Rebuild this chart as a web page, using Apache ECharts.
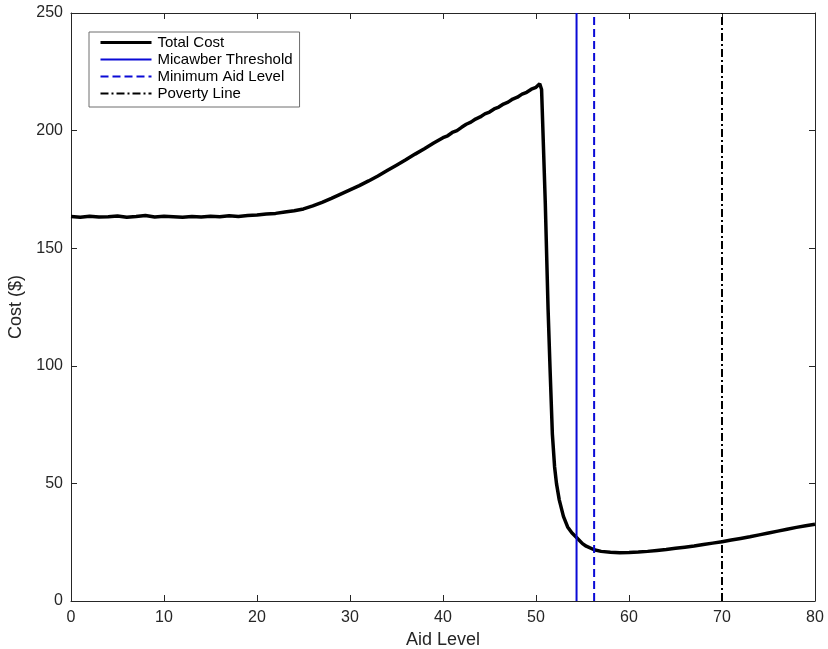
<!DOCTYPE html>
<html>
<head>
<meta charset="utf-8">
<script src="https://cdn.jsdelivr.net/npm/echarts@6/dist/echarts.min.js"></script>
<style>
  html, body { margin: 0; padding: 0; background: #fff; }
  #chart { width: 828px; height: 649px; }
</style>
</head>
<body>
<div id="chart"></div>
<script>
// Aid level values (x) and simulated total cost (y)
const aidLevels = [
  0, 1, 2, 3, 4, 5, 6, 7, 8, 9, 10, 11, 12, 13, 14, 15, 16, 17, 18, 19,
  20, 21, 22, 23, 24, 25, 26, 27, 28, 29, 30, 31, 32, 33, 34, 35, 36, 37, 38, 39,
  40, 40.5, 41, 41.5, 42, 42.5, 43, 43.5, 44, 44.5, 45, 45.5, 46, 46.5, 47, 47.5, 48, 48.5, 49, 49.5,
  50, 50.4, 50.6, 51.0, 51.3, 51.5, 51.76, 52.0, 52.2, 52.5,
  52.95, 53.4, 53.85, 54.36, 55.0, 55.4, 56.25, 57, 58, 59, 60, 61, 62, 63, 64, 65, 66, 67, 68, 69,
  70, 71, 72, 73, 74, 75, 76, 77, 78, 79, 80
];
const totalCost = [
  163.5, 163.2, 163.6, 163.3, 163.4, 163.7, 163.2, 163.5, 163.9, 163.3, 163.6, 163.4, 163.2, 163.5, 163.3, 163.6, 163.4, 163.8, 163.5, 163.9,
  164.1, 164.5, 164.8, 165.4, 165.9, 166.7, 168.0, 169.5, 171.2, 173.0, 174.8, 176.6, 178.6, 180.7, 183.0, 185.3, 187.6, 190.0, 192.3, 194.7,
  197.0, 197.8, 199.2, 200.0, 201.4, 202.7, 203.6, 204.9, 205.8, 207.1, 207.9, 209.2, 210.0, 211.3, 212.1, 213.4, 214.2, 215.5, 216.3, 217.6,
  218.4, 219.9, 217.5, 169.0, 124.0, 100.0, 71.0, 57.0, 50.0, 43.0,
  36.0, 31.5, 29.0, 27.0, 24.4, 23.3, 21.8, 21.1, 20.7, 20.5, 20.6, 20.8, 21.1, 21.5, 21.9, 22.4, 22.9, 23.4, 24.0, 24.6,
  25.2, 25.9, 26.6, 27.3, 28.1, 28.9, 29.7, 30.5, 31.3, 32.0, 32.6
];

// Reference levels drawn as vertical lines
const micawberThreshold = 54.36;
const minimumAidLevel = 56.25;
const povertyLine = 70;

// Axis ranges and ticks
const xTicks = [0, 10, 20, 30, 40, 50, 60, 70, 80];
const yTicks = [0, 50, 100, 150, 200, 250];

const seriesNames = ['Total Cost', 'Micawber Threshold', 'Minimum Aid Level', 'Poverty Line'];

const costPoints = aidLevels.map((x, i) => [x, totalCost[i]]);
const vline = (x) => [[x, yTicks[0]], [x, yTicks[yTicks.length - 1]]];

const FONT = 'Liberation Sans, Arial, Helvetica, sans-serif';
const AXIS_COLOR = '#262626';
const BLUE = '#0a0ad6';

const chart = echarts.init(document.getElementById('chart'), null, { renderer: 'canvas' });

const baseX = {
  type: 'value',
  min: xTicks[0],
  max: xTicks[xTicks.length - 1],
  interval: xTicks[1] - xTicks[0],
  splitLine: { show: false },
  axisLine: { show: true, onZero: false, lineStyle: { color: AXIS_COLOR, width: 1 } },
  axisTick: { show: true, inside: true, length: 6, lineStyle: { color: AXIS_COLOR } }
};
const baseY = {
  type: 'value',
  min: yTicks[0],
  max: yTicks[yTicks.length - 1],
  interval: yTicks[1] - yTicks[0],
  splitLine: { show: false },
  axisLine: { show: true, onZero: false, lineStyle: { color: AXIS_COLOR, width: 1 } },
  axisTick: { show: true, inside: true, length: 6, lineStyle: { color: AXIS_COLOR } }
};

chart.setOption({
  animation: false,
  backgroundColor: '#fff',
  grid: { left: 71, right: 13, top: 13, bottom: 48, containLabel: false, outerBoundsMode: 'none' },
  xAxis: [
    Object.assign({}, baseX, {
      position: 'bottom',
      name: 'Aid Level',
      nameLocation: 'middle',
      nameGap: 23,
      nameTextStyle: { fontFamily: FONT, fontSize: 18, color: AXIS_COLOR },
      axisLabel: { fontFamily: FONT, fontSize: 16, color: AXIS_COLOR, margin: 9 }
    }),
    Object.assign({}, baseX, { position: 'top', axisLabel: { show: false } })
  ],
  yAxis: [
    Object.assign({}, baseY, {
      position: 'left',
      name: 'Cost ($)',
      nameLocation: 'middle',
      nameGap: 38,
      nameRotate: 90,
      nameTextStyle: { fontFamily: FONT, fontSize: 18, color: AXIS_COLOR },
      axisLabel: { fontFamily: FONT, fontSize: 16, color: AXIS_COLOR, margin: 8 }
    }),
    Object.assign({}, baseY, { position: 'right', axisLabel: { show: false } })
  ],
  legend: {
    data: [
      { name: seriesNames[0], lineStyle: { width: 3 } },
      { name: seriesNames[1], lineStyle: { width: 2 } },
      { name: seriesNames[2], lineStyle: { width: 2 } },
      { name: seriesNames[3], lineStyle: { width: 2 } }
    ],
    orient: 'vertical',
    left: 89,
    top: 32,
    itemWidth: 51,
    itemHeight: 14,
    itemGap: 2,
    padding: [3, 7, 6, 10],
    backgroundColor: '#fff',
    borderColor: '#6e6e6e',
    borderWidth: 1,
    borderRadius: 0,
    itemStyle: { opacity: 0 },
    textStyle: { fontFamily: FONT, fontSize: 15, color: '#000', padding: [0, 0, 0, 1] }
  },
  series: [
    {
      name: seriesNames[0],
      type: 'line',
      data: costPoints,
      showSymbol: false,
      symbol: 'none',
      lineStyle: { color: '#000', width: 3.5 },
      itemStyle: { color: '#000' },
      z: 3
    },
    {
      name: seriesNames[1],
      type: 'line',
      data: vline(micawberThreshold),
      showSymbol: false,
      symbol: 'none',
      lineStyle: { color: BLUE, width: 2 },
      itemStyle: { color: BLUE },
      z: 4
    },
    {
      name: seriesNames[2],
      type: 'line',
      data: vline(minimumAidLevel),
      showSymbol: false,
      symbol: 'none',
      lineStyle: { color: BLUE, width: 2, type: [8, 4] },
      itemStyle: { color: BLUE },
      z: 4
    },
    {
      name: seriesNames[3],
      type: 'line',
      data: vline(povertyLine),
      showSymbol: false,
      symbol: 'none',
      lineStyle: { color: '#000', width: 2, type: [8, 3, 2, 3] },
      itemStyle: { color: '#000' },
      z: 4
    }
  ]
});
</script>
</body>
</html>
